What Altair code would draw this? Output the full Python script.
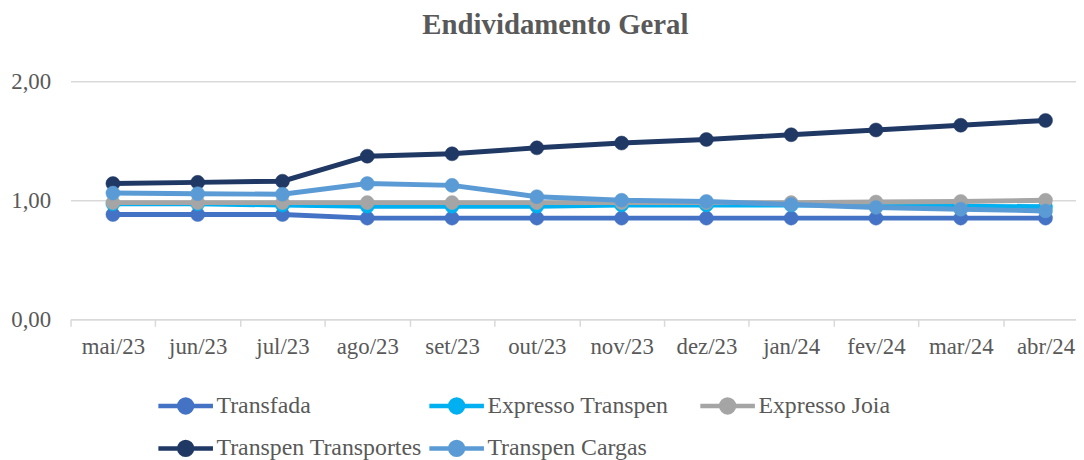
import altair as alt
import pandas as pd

meses = ["mai/23", "jun/23", "jul/23", "ago/23", "set/23", "out/23",
         "nov/23", "dez/23", "jan/24", "fev/24", "mar/24", "abr/24"]
series = ["Transfada", "Expresso Transpen", "Expresso Joia",
          "Transpen Transportes", "Transpen Cargas"]
cores = ["#4472C4", "#00B0F0", "#A5A5A5", "#203864", "#5B9BD5"]

transfada = [0.88, 0.88, 0.88, 0.85, 0.85, 0.85, 0.85, 0.85, 0.85, 0.85, 0.85, 0.85]
expresso_transpen = [0.97, 0.97, 0.96, 0.95, 0.95, 0.95, 0.96, 0.96, 0.96, 0.96, 0.95, 0.945]
expresso_joia = [0.98, 0.98, 0.98, 0.98, 0.98, 0.98, 0.98, 0.98, 0.98, 0.985, 0.99, 1.00]
transpen_transportes = [1.14, 1.15, 1.16, 1.37, 1.39, 1.44, 1.48, 1.51, 1.55, 1.59, 1.63, 1.67]
transpen_cargas = [1.06, 1.055, 1.05, 1.14, 1.125, 1.03, 1.00, 0.99, 0.965, 0.94, 0.925, 0.91]

valores = [transfada, expresso_transpen, expresso_joia, transpen_transportes, transpen_cargas]

rows = []
for s, vals in zip(series, valores):
    for m, v in zip(meses, vals):
        rows.append({"mes": m, "serie": s, "valor": v})
df = pd.DataFrame(rows)

FONT = "serif"
TXT = "#595959"
GRID = "#D9D9D9"

x = alt.X("mes:N", sort=meses, title=None,
          scale=alt.Scale(range=[0, 1025], paddingInner=0, paddingOuter=0),
          axis=alt.Axis(labelAngle=0, labelFont=FONT, labelFontSize=23, labelColor=TXT,
                        labelPadding=9, domainColor=GRID, domainWidth=1.5,
                        tickColor=GRID, tickSize=7, tickWidth=1.5, tickBand="extent",
                        grid=False))
y = alt.Y("valor:Q", title=None,
          scale=alt.Scale(domain=[0, 2], nice=False, zero=True),
          axis=alt.Axis(values=[0, 1, 2], labelExpr="replace(format(datum.value, '.2f'), '.', ',')",
                        labelFont=FONT, labelFontSize=23, labelColor=TXT, labelPadding=20,
                        domain=False, ticks=False, grid=True, gridColor=GRID, gridWidth=1.5))

escala = alt.Scale(domain=series, range=cores)
sym = "M-2,0L2,0M-0.47,0A0.47,0.47,0,1,1,0.47,0A0.47,0.47,0,1,1,-0.47,0Z"
legenda = alt.Legend(title=None, orient="none", legendX=100, legendY=311,
                     columns=3, direction="horizontal", gridAlign="all",
                     symbolType=sym, symbolSize=756, symbolStrokeWidth=4.5,
                     labelFont=FONT, labelFontSize=24, labelColor=TXT,
                     labelOffset=15, columnPadding=-2, rowPadding=11,
                     padding=0, labelLimit=400)

layers = []
for s, c in zip(series, cores):
    base = alt.Chart(df).transform_filter(alt.datum.serie == s)
    layers.append(base.mark_line(strokeWidth=5, color=c).encode(x=x, y=y))
    layers.append(base.mark_point(filled=True, size=200, opacity=1, strokeWidth=0.5).encode(
        x=x, y=y,
        fill=alt.Fill("serie:N", scale=escala, legend=legenda),
        stroke=alt.Stroke("serie:N", scale=escala, legend=legenda),
    ))

chart = alt.layer(*layers).properties(
    width=1013, height=240,
    autosize=alt.AutoSizeParams(type="none"),
    padding={"left": 63, "top": 72, "right": 0, "bottom": 140},
    title=alt.Title("Endividamento Geral", font=FONT, fontSize=29, fontWeight="bold",
                    color=TXT, anchor="middle", offset=30, dx=-18),
).configure_view(stroke=None).configure_legend(orient="none")

chart.save("out.html", embed_options={"renderer": "svg", "actions": False})
